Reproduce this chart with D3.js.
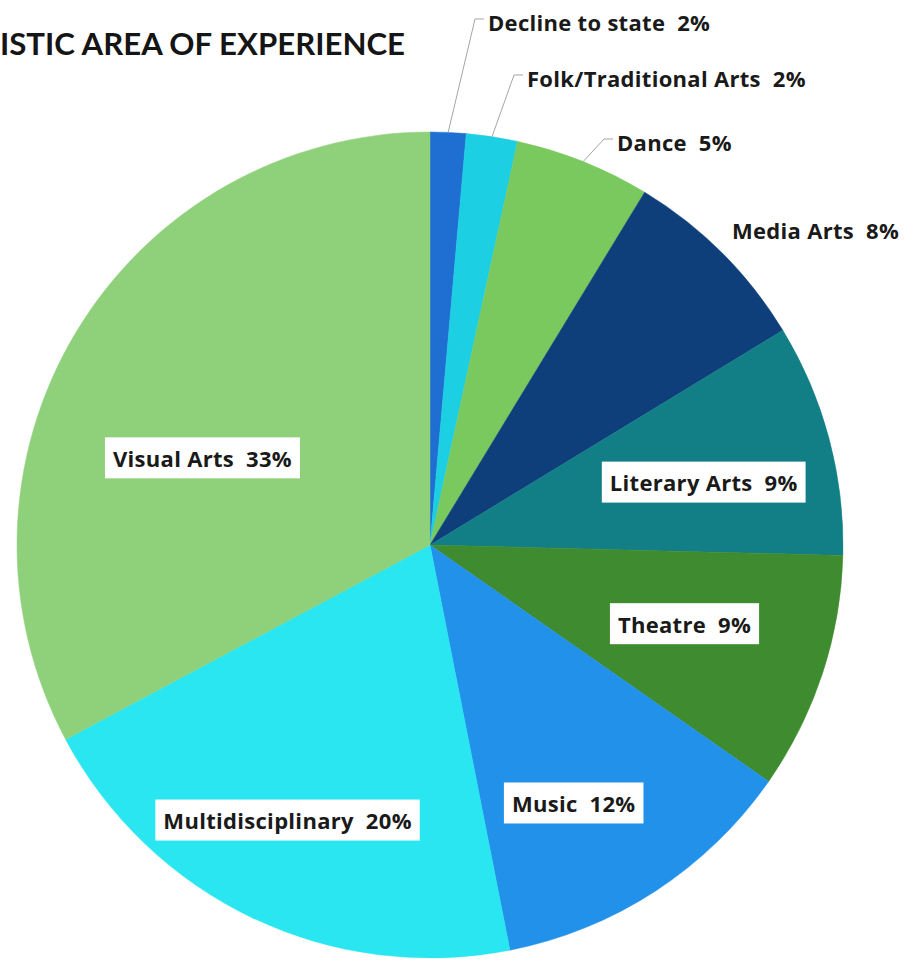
<!DOCTYPE html>
<html>
<head>
<meta charset="utf-8">
<script src="https://cdn.jsdelivr.net/npm/d3@7"></script>
<style>
  html, body { margin: 0; padding: 0; background: #ffffff; }
  svg { display: block; }
</style>
</head>
<body>
<div id="chart"></div>
<script>
// ---- data ----
const titleText = "ISTIC AREA OF EXPERIENCE";
const categories = ["Decline to state", "Folk/Traditional Arts", "Dance", "Media Arts",
                    "Literary Arts", "Theatre", "Music", "Multidisciplinary", "Visual Arts"];
const values = [1.4, 2.0, 5.3, 7.6, 9.1, 9.3, 12.2, 20.3, 32.8];
const percentLabels = ["2%", "2%", "5%", "8%", "9%", "9%", "12%", "20%", "33%"];
const colors = ["#1f6fd2", "#1dcfe2", "#79c95e", "#0f3f7b", "#127e86",
                "#3f8b2f", "#2291ea", "#29e6f1", "#8fd07b"];

// ---- layout (not data) ----
const W = 915, H = 964;
const cx = 430, cy = 545, R = 413;
// inside labels: radius factor and angle nudge (degrees)
const insideLayout = {
  4: { rf: 0.68, da: 2 },
  5: { rf: 0.645, da: -1 },
  6: { rf: 0.715, da: 4 },
  7: { rf: 0.75, da: 2 },
  8: { rf: 0.59, da: -10 }
};
// outside labels: text start offset from the pie centre
const outsideLayout = {
  0: { dx: 58, dy: -523, line: true },
  1: { dx: 97, dy: -467, line: true },
  2: { dx: 187, dy: -403, line: true },
  3: { dx: 302, dy: -315, line: false }
};

const svg = d3.select("#chart").append("svg")
  .attr("width", W).attr("height", H);

// title
svg.append("text")
  .attr("x", 0).attr("y", 55)
  .attr("font-family", "Lato, 'DejaVu Sans', sans-serif")
  .attr("font-weight", 700)
  .attr("font-size", 31)
  .attr("textLength", 405)
  .attr("lengthAdjust", "spacingAndGlyphs")
  .attr("fill", "#151515")
  .text(titleText);

const pie = d3.pie().sort(null).value(d => d.value);
const data = categories.map((c, i) => ({ name: c, value: values[i], pct: percentLabels[i], color: colors[i], i }));
const arcs = pie(data);
const arc = d3.arc().innerRadius(0).outerRadius(R);

const g = svg.append("g").attr("transform", `translate(${cx},${cy})`);

g.selectAll("path.slice")
  .data(arcs)
  .enter().append("path")
  .attr("class", "slice")
  .attr("d", arc)
  .attr("fill", d => d.data.color)
  .attr("stroke", d => d.data.color)
  .attr("stroke-width", 0.5);

const fontFam = "'Open Sans', Lato, sans-serif";
const fontSize = 22;
const letterSp = 0.3;

// inside labels with white boxes
arcs.forEach(a => {
  const L = insideLayout[a.data.i];
  if (!L) return;
  const mid = (a.startAngle + a.endAngle) / 2 + L.da * Math.PI / 180;
  const r = R * L.rf;
  const x = r * Math.sin(mid), y = -r * Math.cos(mid);
  const lg = g.append("g").attr("transform", `translate(${x},${y})`);
  const rect = lg.append("rect").attr("fill", "#ffffff");
  const t = lg.append("text")
    .attr("text-anchor", "middle")
    .attr("dominant-baseline", "central")
    .attr("font-family", fontFam)
    .attr("font-weight", 700)
    .attr("font-size", fontSize)
    .attr("letter-spacing", letterSp)
    .attr("fill", "#1a1a1a")
    .attr("xml:space", "preserve")
    .text(a.data.name + "  " + a.data.pct);
  const bb = t.node().getBBox();
  const padX = 8, h = 41;
  rect.attr("x", bb.x - padX).attr("y", -h / 2)
      .attr("width", bb.width + 2 * padX).attr("height", h);
});

// outside labels with leader lines
arcs.forEach(a => {
  const L = outsideLayout[a.data.i];
  if (!L) return;
  const mid = (a.startAngle + a.endAngle) / 2;
  const px = R * Math.sin(mid), py = -R * Math.cos(mid);
  if (L.line) {
    g.append("polyline")
      .attr("points", [[px, py], [L.dx - 13, L.dy - 3], [L.dx - 4, L.dy - 3]].map(p => p.join(",")).join(" "))
      .attr("fill", "none")
      .attr("stroke", "#a6a6a6")
      .attr("stroke-width", 1);
  }
  g.append("text")
    .attr("x", L.dx).attr("y", L.dy)
    .attr("dominant-baseline", "central")
    .attr("font-family", fontFam)
    .attr("font-weight", 700)
    .attr("font-size", fontSize)
    .attr("letter-spacing", letterSp)
    .attr("fill", "#1a1a1a")
    .attr("xml:space", "preserve")
    .text(a.data.name + "  " + a.data.pct);
});
</script>
</body>
</html>
